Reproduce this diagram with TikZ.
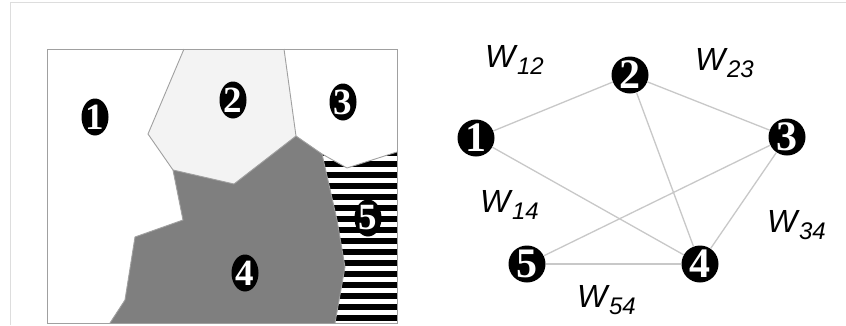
\documentclass[tikz,border=0pt]{standalone}
\usepackage{fontspec}
\setmainfont{Liberation Serif}
\newfontfamily\wfont{Liberation Sans}
\usetikzlibrary{shapes.geometric}
\definecolor{frame}{HTML}{DDDDDD}
\definecolor{regline}{HTML}{A0A0A0}
\definecolor{lightreg}{HTML}{F3F3F3}
\definecolor{darkreg}{HTML}{7F7F7F}
\definecolor{edgecol}{HTML}{C8C8C8}
\tikzset{
  reglabel/.style={ellipse, fill=black, text=white, inner sep=0pt, minimum width=27pt, minimum height=37pt,
    font=\fontsize{37}{37}\selectfont\bfseries},
  gnode/.style={circle, fill=black, text=white, inner sep=0pt, minimum size=37pt,
    font=\fontsize{42}{42}\selectfont\bfseries},
  gedge/.style={draw=edgecol, line width=1.3pt},
  wlabel/.style={anchor=base west, inner sep=0pt, font=\wfont\itshape},
  border/.style={draw=regline, line width=0.9pt}
}
\newcommand{\wlab}[1]{{\fontsize{32}{32}\selectfont W}\,\raisebox{-7pt}{\fontsize{24}{24}\selectfont #1}}
\begin{document}
\begin{tikzpicture}[x=1pt,y=-1pt]
\useasboundingbox (0,0) rectangle (846,325);
\fill[white] (0,0) rectangle (846,325);
% outer faint frame
\draw[frame, line width=1pt] (10,325) -- (10,2) -- (846,2);
% left panel regions
\fill[lightreg] (184,49) -- (284,49) -- (296,136) -- (234,184) -- (173,170) -- (148,134) -- cycle;
\fill[darkreg] (173,170) -- (234,184) -- (296,136) -- (322,154) -- (337,220) -- (345,267) -- (335,323)
  -- (110,323) -- (125,300) -- (135,237) -- (183,220) -- cycle;
\begin{scope}
  \clip (322,154) -- (347,168) -- (397,152) -- (397,323) -- (335,323) -- (345,267) -- (337,220) -- cycle;
  \foreach \k in {0,...,16} {
    \fill[black] (320,{150+11*\k}) rectangle (400,{155.5+11*\k});
  }
\end{scope}
\draw[border] (184,49) -- (148,134) -- (173,170) -- (234,184) -- (296,136) -- (284,49);
\draw[border] (296,136) -- (322,154) -- (347,168) -- (397,152);
\draw[border] (173,170) -- (183,220) -- (135,237) -- (125,300) -- (110,323);
\draw[border] (322,154) -- (337,220) -- (345,267) -- (335,323);
\draw[draw=regline, line width=1pt] (47,49) rectangle (397,323);
% region labels
\node[reglabel] (r1) at (95,117) {1};
\node[reglabel] (r2) at (233,100) {2};
\node[reglabel] (r3) at (343,102) {3};
\node[reglabel] (r4) at (245,273) {4};
\node[reglabel] (r5) at (368,218) {5};
% graph
\node[gnode] (n1) at (476,138) {1};
\node[gnode] (n2) at (630,75) {2};
\node[gnode] (n3) at (787,137) {3};
\node[gnode] (n4) at (700,264) {4};
\node[gnode] (n5) at (527,264) {5};
\draw[gedge] (n1) -- (n2);
\draw[gedge] (n2) -- (n3);
\draw[gedge] (n1) -- (n4);
\draw[gedge] (n2) -- (n4);
\draw[gedge] (n3) -- (n4);
\draw[gedge] (n3) -- (n5);
\draw[gedge] (n5) -- (n4);
% weight labels
\node[wlabel] (w12) at (485,67) {\wlab{12}};
\node[wlabel] (w23) at (695,70) {\wlab{23}};
\node[wlabel] (w14) at (480,212) {\wlab{14}};
\node[wlabel] (w34) at (767,232) {\wlab{34}};
\node[wlabel] (w54) at (577,307) {\wlab{54}};
\end{tikzpicture}
\end{document}
